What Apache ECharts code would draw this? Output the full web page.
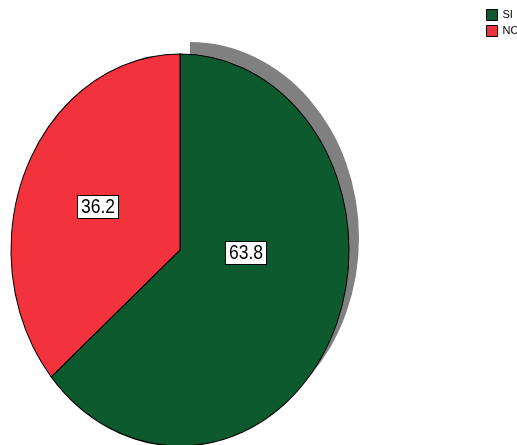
<!DOCTYPE html>
<html><head><meta charset="utf-8">
<script src="https://cdn.jsdelivr.net/npm/echarts@6/dist/echarts.min.js"></script>
<style>html,body{margin:0;padding:0;background:#fff}#c{width:517px;height:445px}</style>
</head><body><div id="c"></div>
<script>
const categories = ['SI', 'NO'];
const values = [63.8, 36.2];
const colors = ['#0c5a2e', '#f2333d'];

// layout
const cx = 180, cy = 250, rx = 169, ry = 196;
const labelCenters = [[246, 253], [98, 207]];
const shadowSlice = 0;

const total = values.reduce((a, b) => a + b, 0);
const starts = [];
let acc = 0;
values.forEach(v => { starts.push(acc); acc += v; });

const series = categories.map((name, i) => ({
  type: 'custom',
  name: name,
  coordinateSystem: 'none',
  itemStyle: { color: colors[i] },
  data: [[values[i]]],
  renderItem: function (params, api) {
    const v = api.value(0);
    const a0 = -Math.PI / 2 + 2 * Math.PI * starts[i] / total;
    const a1 = a0 + 2 * Math.PI * v / total;
    const shape = { cx: cx, cy: cy, r: rx, r0: 0, startAngle: a0, endAngle: a1, clockwise: true };
    const children = [];
    if (i === shadowSlice) {
      children.push({
        type: 'sector', shape: shape, x: 10, y: -12,
        scaleY: ry / rx, originX: cx, originY: cy,
        style: { fill: '#808080' }
      });
    }
    children.push({
      type: 'sector', shape: shape,
      scaleY: ry / rx, originX: cx, originY: cy,
      style: { fill: colors[i], stroke: '#000', lineWidth: 1, strokeNoScale: true }
    });
    children.push({
      type: 'text', x: labelCenters[i][0], y: labelCenters[i][1], scaleY: 1.15, z2: 10,
      style: {
        text: v.toFixed(1), fontSize: 17.5, fontFamily: 'Liberation Sans, Arial, sans-serif',
        fill: '#000', align: 'center', verticalAlign: 'middle',
        backgroundColor: '#fff', borderColor: '#000', borderWidth: 1, padding: [1, 3, 0, 3]
      }
    });
    return { type: 'group', children: children };
  }
}));

const chart = echarts.init(document.getElementById('c'), null, { renderer: 'canvas' });
chart.setOption({
  animation: false,
  backgroundColor: '#fff',
  legend: {
    data: categories, left: 486, top: 9, orient: 'vertical', padding: 0,
    itemWidth: 11, itemHeight: 11, itemGap: 4, icon: 'rect',
    itemStyle: { borderColor: '#000', borderWidth: 1 },
    textStyle: { fontSize: 11, fontFamily: 'Liberation Sans, Arial, sans-serif', color: '#000' }
  },
  series: series
});
</script>
</body></html>
